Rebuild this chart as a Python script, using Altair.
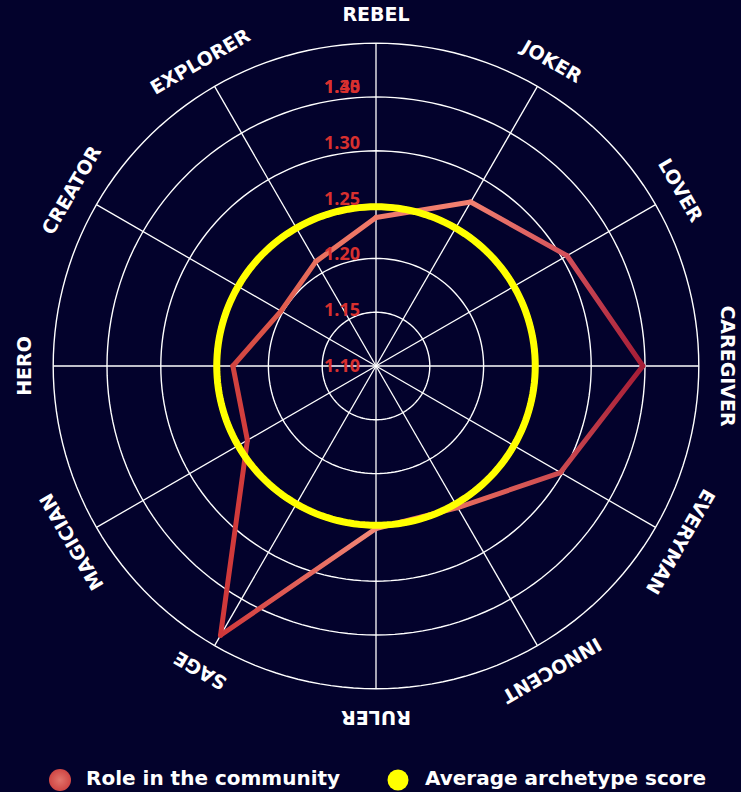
import math
import altair as alt
import pandas as pd

# ---------------- data ----------------
categories = ["REBEL", "JOKER", "LOVER", "CAREGIVER", "EVERYMAN", "INNOCENT",
              "RULER", "SAGE", "MAGICIAN", "HERO", "CREATOR", "EXPLORER"]
role_values = [1.238, 1.276, 1.305, 1.348, 1.298, 1.252,
               1.251, 1.389, 1.238, 1.233, 1.202, 1.212]
average_score = 1.248
ring_levels = [1.15, 1.20, 1.25, 1.30, 1.35, 1.40]
tick_values = [1.10, 1.15, 1.20, 1.25, 1.30, 1.35, 1.40]
tick_labels = ["1.10", "1.15", "1.20", "1.25", "1.30", "1.35", "1.40"]
series_names = ["Role in the community", "Average archetype score"]

# ---------------- style / layout ----------------
point_colors = ["#f07a6a", "#f28070", "#d2505a", "#a51c36", "#cc4a50", "#e86c5e",
                "#f48a78", "#d0383a", "#d23c3c", "#d24440", "#de5a4c", "#e8705e"]
BG = "#03022c"
W, H = 741, 792
CX, CY = 376, 366
K = 1076.0          # pixels per value unit (ring scale)
KL = 1116.0         # label spacing factor
BASE = tick_values[0]
RMAX = ring_levels[-1]
LABEL_R = 351.0 / K
FONT = "DejaVu Sans"

xs = alt.Scale(domain=[-CX / K, (W - CX) / K], nice=False, zero=False)
ys = alt.Scale(domain=[-(H - CY) / K, CY / K], nice=False, zero=False)


def polar(v, ang_deg):
    r = v - BASE
    a = math.radians(ang_deg)
    return r * math.sin(a), r * math.cos(a)


n = len(categories)
angles = [i * 360.0 / n for i in range(n)]

X = lambda f="x": alt.X(f"{f}:Q", scale=xs, axis=None)
Y = lambda f="y": alt.Y(f"{f}:Q", scale=ys, axis=None)

# rings
ring_rows = []
for lv in ring_levels:
    for d in range(0, 361, 2):
        x, y = polar(lv, d)
        ring_rows.append({"ring": lv, "deg": d, "x": x, "y": y})
rings = alt.Chart(pd.DataFrame(ring_rows)).mark_line(
    color="white", strokeWidth=1.4
).encode(x=X(), y=Y(), detail="ring:N", order="deg:Q")

# spokes
spoke_rows = []
for c, a in zip(categories, angles):
    x2, y2 = polar(RMAX, a)
    spoke_rows.append({"cat": c, "x": 0.0, "y": 0.0, "x2": x2, "y2": y2})
spokes = alt.Chart(pd.DataFrame(spoke_rows)).mark_rule(
    color="white", strokeWidth=1.3
).encode(x=X(), y=Y(), x2="x2:Q", y2="y2:Q")

# role line (segments with gradients)
segs = []
for i in range(n):
    j = (i + 1) % n
    p = polar(role_values[i], angles[i])
    q = polar(role_values[j], angles[j])
    gx1 = 0 if p[0] <= q[0] else 1
    gy1 = 0 if p[1] >= q[1] else 1
    df = pd.DataFrame([{"x": p[0], "y": p[1], "k": 0}, {"x": q[0], "y": q[1], "k": 1}])
    grad = alt.Gradient(
        gradient="linear",
        stops=[alt.GradientStop(color=point_colors[i], offset=0),
               alt.GradientStop(color=point_colors[j], offset=1)],
        x1=gx1, x2=1 - gx1, y1=gy1, y2=1 - gy1,
    )
    segs.append(alt.Chart(df).mark_line(color=grad, strokeWidth=5, strokeCap="round").encode(
        x=X(), y=Y(), order="k:Q"))

# average circle
avg_rows = []
for d in range(0, 361, 2):
    x, y = polar(average_score, d)
    avg_rows.append({"deg": d, "x": x, "y": y})
avg = alt.Chart(pd.DataFrame(avg_rows)).mark_line(
    color="#ffff00", strokeWidth=7
).encode(x=X(), y=Y(), order="deg:Q")

# category labels
lab_rows = []
for c, a in zip(categories, angles):
    x, y = polar(BASE + LABEL_R, a)
    lab_rows.append({"cat": c, "x": x, "y": y, "ang": a})
cat_labels = alt.Chart(pd.DataFrame(lab_rows)).mark_text(
    color="white", fontSize=19, fontWeight="bold", font=FONT,
    align="center", baseline="middle"
).encode(x=X(), y=Y(), text="cat:N", angle=alt.Angle("ang:Q", scale=None))

# radial tick labels (last one overlaps the previous one, as in the original)
tick_rows = []
top_lab = tick_values[-2]
for v, t in zip(tick_values, tick_labels):
    vv = min(v, top_lab)
    tick_rows.append({"t": t, "x": 0.0, "y": (vv - BASE) * KL / K})
ticks = alt.Chart(pd.DataFrame(tick_rows)).mark_text(
    color="#d8302f", fontSize=18, fontWeight="bold", font="Open Sans",
    align="left", baseline="middle", dx=-52, dy=1
).encode(x=X(), y=Y(), text="t:N")

# legend
leg_df = pd.DataFrame({"name": series_names})
leg_red = alt.Chart(leg_df).transform_filter(alt.datum.name == series_names[0]).mark_point(
    filled=True, shape="circle", size=484, opacity=1,
    color=alt.Gradient(gradient="radial",
                       stops=[alt.GradientStop(color="#e2756c", offset=0),
                              alt.GradientStop(color="#cf4644", offset=1)])
).encode(x=alt.value(60), y=alt.value(780))
leg_yel = alt.Chart(leg_df).transform_filter(alt.datum.name == series_names[1]).mark_point(
    filled=True, shape="circle", size=441, opacity=1, color="#ffff00"
).encode(x=alt.value(398), y=alt.value(780))
leg_t1 = alt.Chart(leg_df).transform_filter(alt.datum.name == series_names[0]).mark_text(
    color="white", fontSize=20, fontWeight="bold", font=FONT, align="left", baseline="middle"
).encode(x=alt.value(86), y=alt.value(779), text="name:N")
leg_t2 = alt.Chart(leg_df).transform_filter(alt.datum.name == series_names[1]).mark_text(
    color="white", fontSize=20, fontWeight="bold", font=FONT, align="left", baseline="middle"
).encode(x=alt.value(425), y=alt.value(779), text="name:N")

chart = alt.layer(
    rings, spokes, *segs, avg, cat_labels, ticks, leg_red, leg_yel, leg_t1, leg_t2
).properties(
    width=W, height=H, background=BG, padding=0,
    autosize=alt.AutoSizeParams(type="none")
).configure_view(stroke=None)

chart.save("out.html", embed_options={"renderer": "svg", "actions": False})
